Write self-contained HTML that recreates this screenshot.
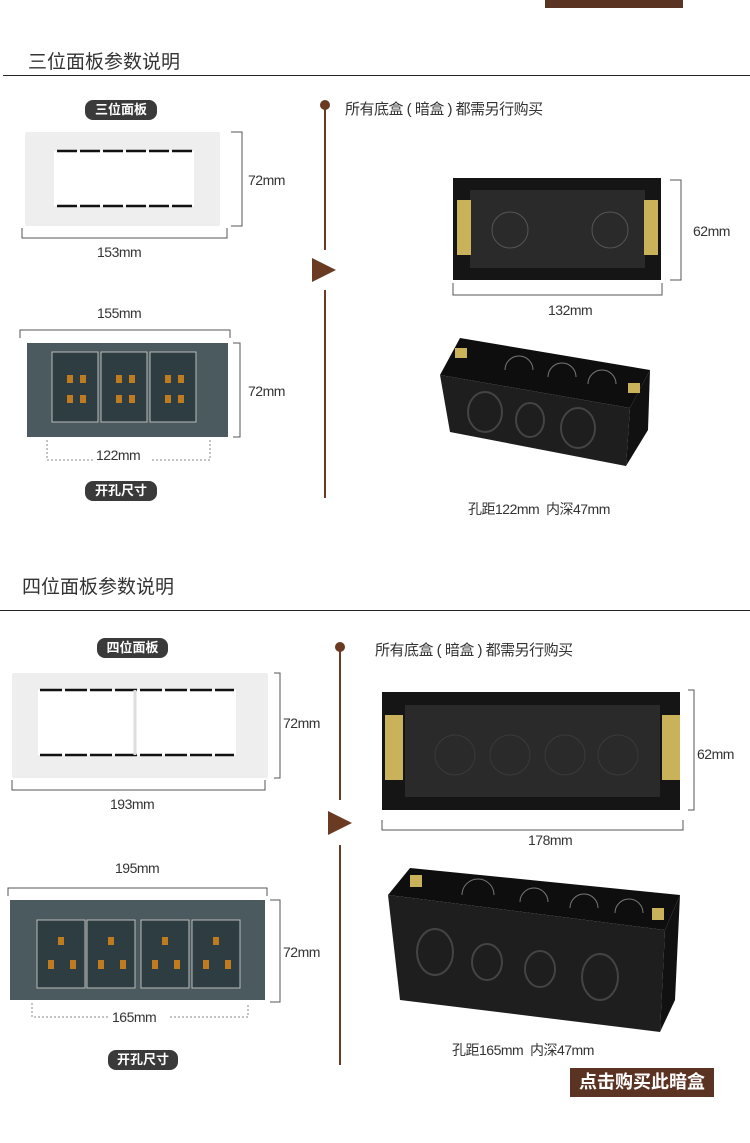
<!DOCTYPE html>
<html><head><meta charset="utf-8"><style>
body{margin:0;width:750px;height:1143px;background:#fff;position:relative;overflow:hidden;font-family:"Liberation Sans","Noto Sans CJK SC",sans-serif;color:#333}
.a{position:absolute}
.t{position:absolute;font-size:14px;color:#333;white-space:nowrap;letter-spacing:-0.5px}
.pill{position:absolute;background:#3a3a3a;color:#fff;border-radius:8px;font-size:13px;font-weight:bold;text-align:center;line-height:20px;white-space:nowrap}
.title{position:absolute;font-size:19px;color:#333}
.hl{position:absolute;height:1px;background:#222}
.brown{background:#6b3a22}
</style></head><body>
<div class="a" style="left:545px;top:-14px;width:138px;height:22px;background:#5b3323"></div>

<div class="title" style="left:28px;top:47px">三位面板参数说明</div>
<div class="hl" style="left:3px;top:75px;width:747px"></div>

<div class="pill" style="left:85px;top:100px;width:72px">三位面板</div>
<svg class="a" style="left:0;top:125px" width="300" height="380">
<rect x="25" y="7" width="195" height="94" fill="#eee" rx="2"/>
<rect x="54" y="26" width="140" height="55" fill="#fff"/>
<g stroke="#111" stroke-width="2.5" stroke-dasharray="20,3"><line x1="57" y1="26" x2="192" y2="26"/><line x1="57" y1="81" x2="192" y2="81"/></g>
<path d="M231 7H242V101H231M22 103V113H227V103" fill="none" stroke="#555"/>
<path d="M20 213V205H230V213" fill="none" stroke="#555"/>
<rect x="27" y="218" width="201" height="94" fill="#4a5a5e"/>
<g fill="#2e3d42" stroke="#bbb" stroke-width="1"><rect x="52" y="227" width="46" height="70"/><rect x="101" y="227" width="46" height="70"/><rect x="150" y="227" width="46" height="70"/></g>
<g fill="#c07a20"><rect x="67" y="250" width="6" height="8"/><rect x="80" y="250" width="6" height="8"/><rect x="116" y="250" width="6" height="8"/><rect x="129" y="250" width="6" height="8"/><rect x="165" y="250" width="6" height="8"/><rect x="178" y="250" width="6" height="8"/><rect x="67" y="270" width="6" height="8"/><rect x="80" y="270" width="6" height="8"/><rect x="116" y="270" width="6" height="8"/><rect x="129" y="270" width="6" height="8"/><rect x="165" y="270" width="6" height="8"/><rect x="178" y="270" width="6" height="8"/></g>
<path d="M233 218H240V312H233" fill="none" stroke="#555"/>
<path d="M47 315V335H94M152 335H210V315" fill="none" stroke="#888" stroke-dasharray="2,2"/>
</svg>
<div class="t" style="left:248px;top:172px">72mm</div>
<div class="t" style="left:97px;top:244px">153mm</div>
<div class="t" style="left:97px;top:305px">155mm</div>
<div class="t" style="left:248px;top:383px">72mm</div>
<div class="t" style="left:96px;top:447px">122mm</div>
<div class="pill" style="left:85px;top:481px;width:72px">开孔尺寸</div>

<div class="a brown" style="left:320px;top:100px;width:10px;height:10px;border-radius:50%"></div>
<div class="a brown" style="left:324px;top:108px;width:2px;height:142px"></div>
<div class="a" style="left:312px;top:258px;width:0;height:0;border-left:24px solid #6b3a22;border-top:12px solid transparent;border-bottom:12px solid transparent"></div>
<div class="a brown" style="left:324px;top:290px;width:2px;height:208px"></div>
<div class="t" style="left:345px;top:98px;font-size:15px">所有底盒 ( 暗盒 ) 都需另行购买</div>

<svg class="a" style="left:430px;top:170px" width="320" height="310">
<rect x="23" y="8" width="208" height="102" fill="#151515"/>
<rect x="40" y="20" width="175" height="78" fill="#2a2a2a"/>
<rect x="27" y="30" width="14" height="55" fill="#c9b25a"/><rect x="214" y="30" width="14" height="55" fill="#c9b25a"/>
<circle cx="80" cy="60" r="18" fill="none" stroke="#555"/><circle cx="180" cy="60" r="18" fill="none" stroke="#555"/>
<path d="M240 10H251V110H240M23 113V125H232V113" fill="none" stroke="#555"/>
<polygon points="30,168 220,200 200,238 10,205" fill="#0e0e0e"/>
<polygon points="10,205 200,238 196,296 20,262" fill="#1e1e1e"/>
<polygon points="200,238 220,200 218,260 196,296" fill="#111"/>
<g fill="none" stroke="#444" stroke-width="2"><ellipse cx="55" cy="242" rx="17" ry="20"/><ellipse cx="100" cy="250" rx="14" ry="17"/><ellipse cx="148" cy="258" rx="17" ry="20"/></g>
<g fill="none" stroke="#777"><path d="M75 200a14 14 0 0 1 28 0"/><path d="M118 207a14 14 0 0 1 28 0"/><path d="M158 214a14 14 0 0 1 28 0"/></g>
<rect x="25" y="178" width="12" height="10" fill="#c9b25a"/><rect x="198" y="213" width="12" height="10" fill="#c9b25a"/>
</svg>
<div class="t" style="left:693px;top:223px">62mm</div>
<div class="t" style="left:548px;top:302px">132mm</div>
<div class="t" style="left:468px;top:499px">孔距122mm&nbsp; 内深47mm</div>

<div class="title" style="left:22px;top:572px">四位面板参数说明</div>
<div class="hl" style="left:0;top:610px;width:750px"></div>

<div class="pill" style="left:97px;top:638px;width:71px">四位面板</div>
<svg class="a" style="left:0;top:665px" width="320" height="360">
<rect x="12" y="8" width="256" height="105" fill="#eee" rx="2"/>
<rect x="38" y="25" width="198" height="65" fill="#fff"/>
<g stroke="#111" stroke-width="2.5" stroke-dasharray="22,3"><line x1="40" y1="25" x2="234" y2="25"/><line x1="40" y1="90" x2="234" y2="90"/></g>
<line x1="135" y1="25" x2="135" y2="90" stroke="#ddd" stroke-width="3"/>
<path d="M274 8H280V113H274M12 115V125H265V115" fill="none" stroke="#555"/>
<path d="M8 231V223H267V231" fill="none" stroke="#555"/>
<rect x="10" y="235" width="255" height="100" fill="#4a5a5e"/>
<g fill="#2e3d42" stroke="#bbb"><rect x="37" y="255" width="48" height="68"/><rect x="87" y="255" width="48" height="68"/><rect x="141" y="255" width="48" height="68"/><rect x="192" y="255" width="48" height="68"/></g>
<g fill="#c07a20"><rect x="58" y="272" width="6" height="8"/><rect x="108" y="272" width="6" height="8"/><rect x="162" y="272" width="6" height="8"/><rect x="213" y="272" width="6" height="8"/><rect x="48" y="295" width="6" height="9"/><rect x="70" y="295" width="6" height="9"/><rect x="98" y="295" width="6" height="9"/><rect x="120" y="295" width="6" height="9"/><rect x="152" y="295" width="6" height="9"/><rect x="174" y="295" width="6" height="9"/><rect x="203" y="295" width="6" height="9"/><rect x="225" y="295" width="6" height="9"/></g>
<path d="M270 235H280V337H270" fill="none" stroke="#555"/>
<path d="M32 338V352H108M170 352H248V338" fill="none" stroke="#888" stroke-dasharray="2,2"/>
</svg>
<div class="t" style="left:283px;top:715px">72mm</div>
<div class="t" style="left:110px;top:796px">193mm</div>
<div class="t" style="left:115px;top:860px">195mm</div>
<div class="t" style="left:283px;top:944px">72mm</div>
<div class="t" style="left:112px;top:1009px">165mm</div>
<div class="pill" style="left:108px;top:1050px;width:70px">开孔尺寸</div>

<div class="a brown" style="left:335px;top:642px;width:10px;height:10px;border-radius:50%"></div>
<div class="a brown" style="left:339px;top:650px;width:2px;height:150px"></div>
<div class="a" style="left:328px;top:811px;width:0;height:0;border-left:24px solid #6b3a22;border-top:12px solid transparent;border-bottom:12px solid transparent"></div>
<div class="a brown" style="left:339px;top:845px;width:2px;height:220px"></div>
<div class="t" style="left:375px;top:639px;font-size:15px">所有底盒 ( 暗盒 ) 都需另行购买</div>

<svg class="a" style="left:370px;top:680px" width="380" height="360">
<rect x="12" y="12" width="298" height="118" fill="#151515"/>
<rect x="35" y="25" width="255" height="92" fill="#2a2a2a"/>
<rect x="15" y="35" width="18" height="65" fill="#c9b25a"/><rect x="292" y="35" width="18" height="65" fill="#c9b25a"/>
<g fill="none" stroke="#3a3a3a"><circle cx="85" cy="75" r="20"/><circle cx="140" cy="75" r="20"/><circle cx="195" cy="75" r="20"/><circle cx="248" cy="75" r="20"/></g>
<path d="M318 10H324V130H318M12 140V150H313V140" fill="none" stroke="#555"/>
<polygon points="40,188 310,215 295,250 18,215" fill="#0e0e0e"/>
<polygon points="18,215 295,250 290,352 30,320" fill="#1e1e1e"/>
<polygon points="295,250 310,215 305,320 290,352" fill="#111"/>
<g fill="none" stroke="#444" stroke-width="2"><ellipse cx="65" cy="272" rx="18" ry="23"/><ellipse cx="117" cy="282" rx="15" ry="18"/><ellipse cx="170" cy="289" rx="15" ry="18"/><ellipse cx="230" cy="297" rx="18" ry="23"/></g>
<g fill="none" stroke="#777"><path d="M92 215a16 16 0 0 1 32 0"/><path d="M150 222a14 14 0 0 1 28 0"/><path d="M200 228a14 14 0 0 1 28 0"/><path d="M245 233a14 14 0 0 1 28 0"/></g>
<rect x="40" y="195" width="12" height="12" fill="#c9b25a"/><rect x="282" y="228" width="12" height="12" fill="#c9b25a"/>
</svg>
<div class="t" style="left:697px;top:746px">62mm</div>
<div class="t" style="left:528px;top:832px">178mm</div>
<div class="t" style="left:452px;top:1040px">孔距165mm&nbsp; 内深47mm</div>

<div class="a" style="left:570px;top:1068px;width:144px;height:29px;background:#5b3323;color:#fff;font-size:18px;font-weight:bold;text-align:center;line-height:29px">点击购买此暗盒</div>
</body></html>
